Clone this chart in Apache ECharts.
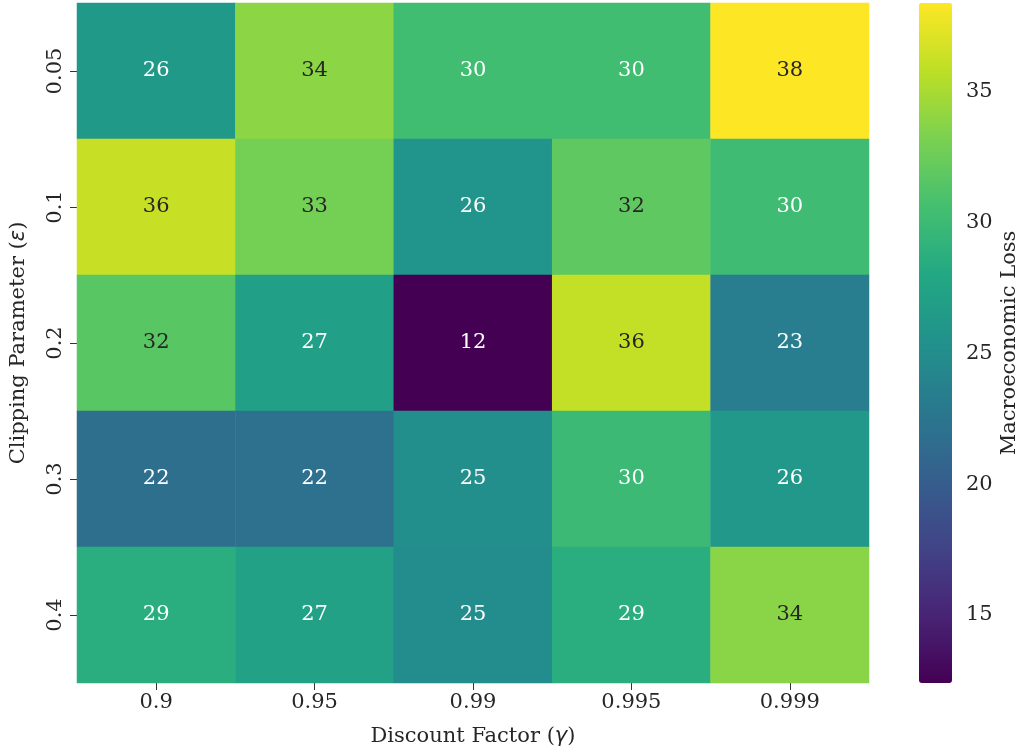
<!DOCTYPE html>
<html>
<head>
<meta charset="utf-8">
<script src="https://cdn.jsdelivr.net/npm/echarts@6/dist/echarts.min.js"></script>
<style>
  html, body { margin: 0; padding: 0; background: #ffffff; }
  #chart { width: 1023px; height: 756px; }
</style>
</head>
<body>
<div id="chart"></div>
<script>
// Discount factor (columns) and clipping parameter (rows)
const gammas = ['0.9', '0.95', '0.99', '0.995', '0.999'];
const epsilons = ['0.05', '0.1', '0.2', '0.3', '0.4'];

// Macroeconomic loss, one array per clipping parameter row
const lossEps005 = [26.3, 33.9, 30.4, 30.4, 38.4];
const lossEps01  = [36.2, 32.9, 25.8, 31.9, 30.2];
const lossEps02  = [31.6, 27.1, 12.4, 36.1, 23.4];
const lossEps03  = [21.9, 22.1, 25.2, 30.0, 26.2];
const lossEps04  = [28.7, 27.2, 24.9, 28.7, 33.8];

// Colour bar range and ticks
const colorMin = 12.4;
const colorMax = 38.4;
const colorTicks = [15, 20, 25, 30, 35];

const rows = [lossEps005, lossEps01, lossEps02, lossEps03, lossEps04];
const cells = [];
rows.forEach((row, yi) => row.forEach((v, xi) => cells.push([xi, yi, v])));

const viridis = ['#440154', '#482475', '#414487', '#355f8d', '#2a788e', '#21918c',
                 '#22a884', '#44bf70', '#7ad151', '#bddf26', '#fde725'];

const serif = 'DejaVu Serif';
const textColor = '#262626';
const tickColor = '#333333';
const fs = 21;

// Axis titles with italic Greek symbols
const nameStyle = {
  fontFamily: serif, fontSize: fs, color: textColor,
  rich: { m: { fontFamily: 'DejaVu Sans', fontStyle: 'italic', fontSize: fs, color: textColor } }
};

const chart = echarts.init(document.getElementById('chart'), null, { renderer: 'canvas' });
chart.setOption({
  backgroundColor: '#ffffff',
  animation: false,
  textStyle: { fontFamily: serif },
  grid: [
    { left: 77, right: 154, top: 3, bottom: 73 },
    { left: 919, width: 33, top: 3, height: 680 }
  ],
  xAxis: [
    {
      type: 'category', data: gammas, gridIndex: 0,
      axisLine: { show: false },
      axisTick: { show: true, alignWithLabel: true, length: 7, lineStyle: { color: tickColor } },
      axisLabel: { fontFamily: serif, fontSize: fs, color: textColor, margin: 9 },
      name: 'Discount Factor ({m|γ})', nameLocation: 'middle', nameGap: 43,
      nameTextStyle: nameStyle
    },
    { type: 'value', gridIndex: 1, show: false, min: 0, max: 1 }
  ],
  yAxis: [
    {
      type: 'category', data: epsilons, gridIndex: 0, inverse: true,
      axisLine: { show: false },
      axisTick: { show: true, alignWithLabel: true, length: 7, lineStyle: { color: tickColor } },
      axisLabel: { fontFamily: serif, fontSize: fs, color: textColor, rotate: 90, margin: 11 },
      name: 'Clipping Parameter ({m|ε})', nameLocation: 'middle', nameGap: 48, nameRotate: 90,
      nameTextStyle: nameStyle
    },
    {
      type: 'value', gridIndex: 1, position: 'right', min: colorMin, max: colorMax,
      axisLine: { show: false },
      splitLine: { show: false },
      axisTick: { show: true, length: 7, customValues: colorTicks, lineStyle: { color: tickColor } },
      axisLabel: { fontFamily: serif, fontSize: fs, color: textColor, margin: 14, customValues: colorTicks },
      name: 'Macroeconomic Loss', nameLocation: 'middle', nameGap: 47, nameRotate: 90,
      nameTextStyle: { fontFamily: serif, fontSize: fs, color: textColor }
    }
  ],
  visualMap: {
    type: 'continuous', min: colorMin, max: colorMax, calculable: false,
    orient: 'vertical', left: 919, top: 3, itemWidth: 33, itemHeight: 680,
    padding: 0, text: null, showLabel: false, hoverLink: false,
    seriesIndex: 0,
    inRange: { color: viridis }
  },
  series: [{
    type: 'heatmap',
    xAxisIndex: 0, yAxisIndex: 0,
    itemStyle: { borderWidth: 0 },
    emphasis: { disabled: true },
    label: {
      show: true,
      fontFamily: serif,
      fontSize: fs,
      formatter: p => Math.round(p.value[2]).toString()
    },
    // Dark annotations on the light cells, white on the dark ones
    data: cells.map(c => ({
      value: c,
      label: { color: c[2] > 31 ? textColor : '#ffffff' }
    }))
  }]
});
</script>
</body>
</html>
